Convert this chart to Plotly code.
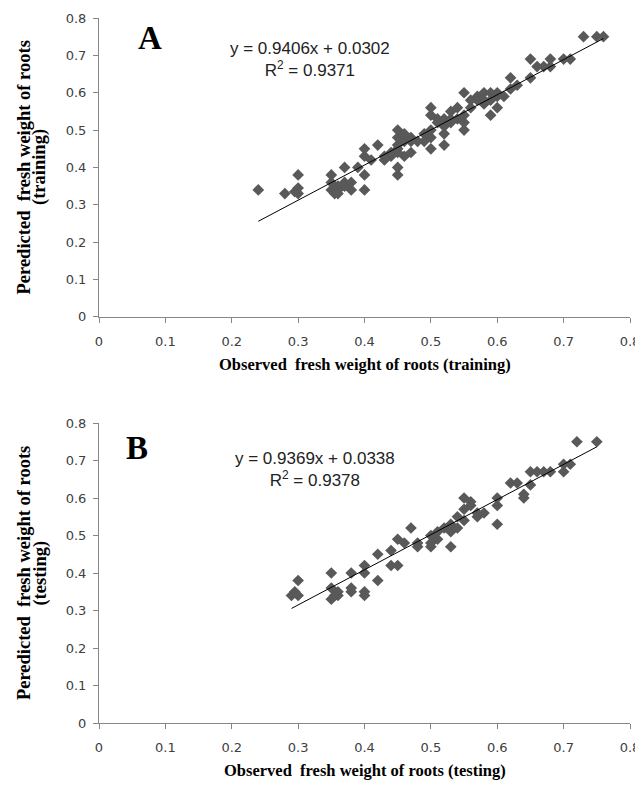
import plotly.graph_objects as go

# training set (panel A): observed vs predicted
train_obs = [0.24, 0.28, 0.295, 0.30, 0.30, 0.30, 0.35, 0.35, 0.35, 0.355, 0.36, 0.36, 0.365,
             0.37, 0.37, 0.38, 0.38, 0.39, 0.40, 0.40, 0.40, 0.40, 0.41, 0.42, 0.43, 0.44, 0.44,
             0.45, 0.45, 0.45, 0.45, 0.45, 0.45, 0.46, 0.46, 0.47, 0.47, 0.48, 0.49, 0.50, 0.50,
             0.50, 0.50, 0.50, 0.51, 0.51, 0.52, 0.52, 0.52, 0.53, 0.53, 0.54, 0.54, 0.55, 0.55,
             0.55, 0.55, 0.56, 0.57, 0.57, 0.58, 0.58, 0.59, 0.59, 0.60, 0.60, 0.60, 0.61, 0.62,
             0.62, 0.63, 0.65, 0.65, 0.66, 0.67, 0.68, 0.68, 0.70, 0.71, 0.73, 0.75, 0.76,
             0.36, 0.37, 0.46, 0.47, 0.49, 0.52, 0.56, 0.58, 0.59, 0.53, 0.43, 0.45]
train_pred = [0.34, 0.33, 0.335, 0.33, 0.345, 0.38, 0.38, 0.36, 0.34, 0.33, 0.35, 0.34, 0.35,
              0.36, 0.40, 0.34, 0.36, 0.40, 0.34, 0.38, 0.43, 0.45, 0.42, 0.46, 0.42, 0.43, 0.44,
              0.38, 0.40, 0.45, 0.46, 0.48, 0.50, 0.43, 0.47, 0.48, 0.47, 0.47, 0.49, 0.45, 0.48,
              0.50, 0.54, 0.56, 0.52, 0.53, 0.46, 0.49, 0.53, 0.52, 0.53, 0.53, 0.56, 0.50, 0.52,
              0.54, 0.60, 0.56, 0.58, 0.59, 0.60, 0.57, 0.54, 0.58, 0.56, 0.59, 0.60, 0.59, 0.64,
              0.61, 0.62, 0.64, 0.69, 0.67, 0.67, 0.69, 0.67, 0.69, 0.69, 0.75, 0.75, 0.75,
              0.33, 0.35, 0.49, 0.44, 0.47, 0.51, 0.58, 0.58, 0.60, 0.55, 0.43, 0.44]

# testing set (panel B)
test_obs = [0.29, 0.295, 0.30, 0.30, 0.35, 0.35, 0.35, 0.355, 0.36, 0.36, 0.38, 0.38, 0.38,
            0.40, 0.40, 0.40, 0.40, 0.42, 0.42, 0.44, 0.44, 0.45, 0.45, 0.46, 0.47, 0.48, 0.48,
            0.50, 0.50, 0.50, 0.51, 0.51, 0.52, 0.53, 0.53, 0.53, 0.54, 0.54, 0.55, 0.55, 0.55,
            0.56, 0.56, 0.57, 0.57, 0.58, 0.60, 0.60, 0.60, 0.62, 0.63, 0.64, 0.64, 0.65, 0.65,
            0.66, 0.67, 0.68, 0.70, 0.70, 0.71, 0.72, 0.75]
test_pred = [0.34, 0.35, 0.34, 0.38, 0.40, 0.36, 0.33, 0.34, 0.35, 0.34, 0.40, 0.35, 0.36,
             0.42, 0.40, 0.34, 0.35, 0.45, 0.38, 0.46, 0.42, 0.42, 0.49, 0.48, 0.52, 0.48, 0.47,
             0.50, 0.48, 0.47, 0.51, 0.49, 0.52, 0.47, 0.53, 0.51, 0.55, 0.52, 0.60, 0.54, 0.57,
             0.58, 0.59, 0.56, 0.55, 0.56, 0.60, 0.58, 0.53, 0.64, 0.64, 0.60, 0.61, 0.635, 0.67,
             0.67, 0.67, 0.67, 0.67, 0.69, 0.69, 0.75, 0.75]

# linear trend coefficients (slope, intercept, R2)
fit_a = (0.9406, 0.0302, 0.9371)
fit_b = (0.9369, 0.0338, 0.9378)

axis_ticks = [0, 0.1, 0.2, 0.3, 0.4, 0.5, 0.6, 0.7, 0.8]

marker_col = '#595959'
axis_col = '#868686'

fig = go.Figure()

def add_panel(obs, pred, fit, xa, ya):
    fig.add_trace(go.Scatter(x=obs, y=pred, mode='markers', xaxis=xa, yaxis=ya,
                             marker=dict(symbol='diamond', size=9, color=marker_col),
                             showlegend=False))
    x0, x1 = min(obs), max(obs)
    fig.add_trace(go.Scatter(x=[x0, x1], y=[fit[0] * x0 + fit[1], fit[0] * x1 + fit[1]],
                             mode='lines', xaxis=xa, yaxis=ya,
                             line=dict(color='black', width=1), showlegend=False))

add_panel(train_obs, train_pred, fit_a, 'x', 'y')
add_panel(test_obs, test_pred, fit_b, 'x2', 'y2')

tickfont = dict(family='DejaVu Sans', size=13, color='#404040')
xtitlefont = dict(family='Liberation Serif', size=16.5, color='black')
ytitlefont = dict(family='Liberation Serif', size=18.5, color='black')

def axis_cfg(anchor, dom, standoff):
    return dict(range=[0, 0.8], tickvals=axis_ticks, ticktext=[str(t) for t in axis_ticks],
                showgrid=False, zeroline=False, showline=True, linecolor=axis_col, linewidth=1,
                ticks='outside', ticklen=5, tickcolor=axis_col, tickfont=tickfont,
                ticklabelstandoff=standoff, ticklabeloverflow='allow',
                anchor=anchor, domain=dom, automargin=False)

# the page body adds an 8px margin, so the figure is 8px smaller and margins shifted
fig.update_layout(
    width=635, height=778,
    margin=dict(l=91, r=13, t=10, b=63),
    plot_bgcolor='white', paper_bgcolor='white',
    xaxis=axis_cfg('y', [0, 1], 7),
    yaxis=axis_cfg('x', [0.576, 1.0], 4),
    xaxis2=axis_cfg('y2', [0, 1], 7),
    yaxis2=axis_cfg('x2', [0.0, 0.4255], 4),
)

# axis titles
for xa, ya, tag in [('x', 'y', 'training'), ('x2', 'y2', 'testing')]:
    fig.add_annotation(x=0.5, y=-0.16, xref=xa + ' domain', yref=ya + ' domain',
                       xanchor='center', yanchor='middle',
                       text='<b>Observed  fresh weight of roots (%s)</b>' % tag,
                       showarrow=False, font=xtitlefont)
    fig.add_annotation(x=-0.1412, y=0.5, xref='paper', yref=ya + ' domain', textangle=-90,
                       xanchor='center', yanchor='middle',
                       text='<b>Peredicted  fresh weight of roots</b>',
                       showarrow=False, font=ytitlefont)
    fig.add_annotation(x=-0.112, y=0.5, xref='paper', yref=ya + ' domain', textangle=-90,
                       xanchor='center', yanchor='middle',
                       text='<b>(%s)</b>' % tag, showarrow=False, font=ytitlefont)

eqfont = dict(family='Liberation Sans', size=17, color='#222222')
fig.add_annotation(x=0.077, y=0.746, xref='x', yref='y', text='<b>A</b>', showarrow=False,
                   font=dict(family='Liberation Serif', size=33, color='black'))
fig.add_annotation(x=0.057, y=0.733, xref='x2', yref='y2', text='<b>B</b>', showarrow=False,
                   font=dict(family='Liberation Serif', size=33, color='black'))
fig.add_annotation(x=0.318, y=0.69, xref='x', yref='y', showarrow=False, font=eqfont,
                   text='y = %.4fx + %.4f<br>R<sup>2</sup> = %.4f' % fit_a)
fig.add_annotation(x=0.325, y=0.677, xref='x2', yref='y2', showarrow=False, font=eqfont,
                   text='y = %.4fx + %.4f<br>R<sup>2</sup> = %.4f' % fit_b)

fig.write_html('out.html')
